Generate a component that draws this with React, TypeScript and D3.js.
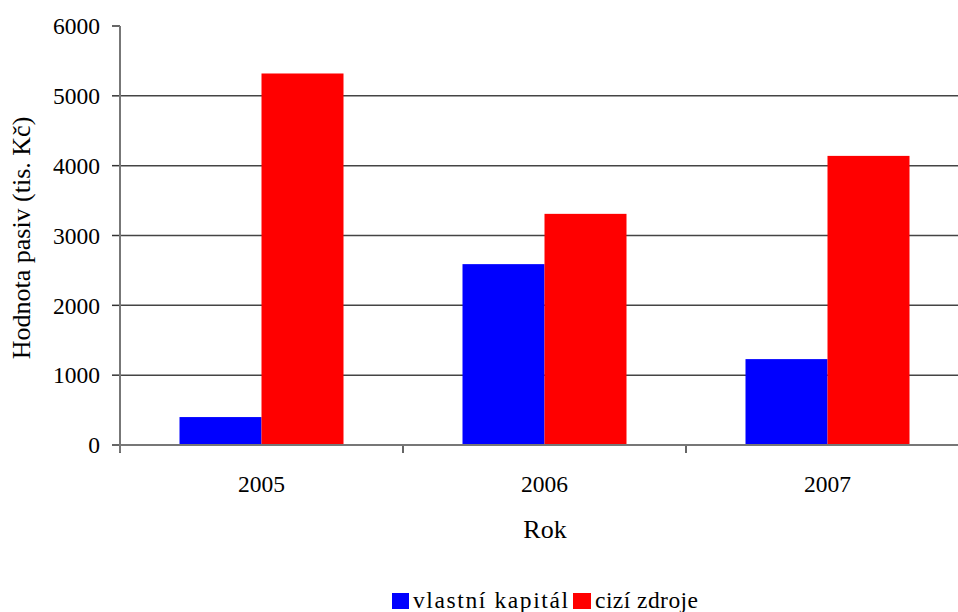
import React from "react";
import * as d3 from "d3";

const categories = ["2005", "2006", "2007"];
const seriesNames = ["vlastní kapitál", "cizí zdroje"];
const vlastniKapital = [400, 2590, 1230];
const ciziZdroje = [5320, 3310, 4140];
const yTicks = [0, 1000, 2000, 3000, 4000, 5000, 6000];
const colors = ["#0000FF", "#FF0000"];

export default function App() {
  const W = 958, H = 612;
  const left = 120, right = 969, top = 26, bottom = 445;
  const x = d3.scaleBand<string>().domain(categories).range([left, right]).paddingInner(0).paddingOuter(0);
  const y = d3.scaleLinear().domain([0, 6000]).range([bottom, top]);
  const bw = 82;
  const series = [vlastniKapital, ciziZdroje];
  const font = "'Liberation Serif', 'Times New Roman', serif";
  return (
    <svg width={W} height={H} style={{ position: "absolute", left: 0, top: 0, background: "#fff" }} fontFamily={font}>
      {yTicks.map((t) => (
        <g key={t}>
          {t > 0 && t < 6000 && <line x1={left} x2={right} y1={y(t)} y2={y(t)} stroke="#444" strokeWidth={1.5} />}
          <line x1={left - 8} x2={left} y1={y(t)} y2={y(t)} stroke="#333" strokeWidth={1.5} />
          <text x={100} y={y(t)} dy="0.35em" textAnchor="end" fontSize={23.5} fill="#000">{t}</text>
        </g>
      ))}
      {categories.map((c, i) => {
        const cx = (x(c) as number) + x.bandwidth() / 2;
        return (
          <g key={c}>
            {series.map((s, j) => (
              <rect key={j} x={cx - bw + j * bw} y={y(s[i])} width={bw} height={bottom - y(s[i])} fill={colors[j]} />
            ))}
            <text x={cx} y={492} textAnchor="middle" fontSize={23.5} fill="#000">{c}</text>
          </g>
        );
      })}
      {[...categories.map((c) => x(c) as number), right].map((px, i) => (
        <line key={i} x1={px} x2={px} y1={bottom} y2={bottom + 8} stroke="#333" strokeWidth={1.5} />
      ))}
      <line x1={left} x2={right} y1={bottom} y2={bottom} stroke="#777" strokeWidth={2} />
      <line x1={left} x2={left} y1={top} y2={bottom + 7} stroke="#777" strokeWidth={2} />
      <text x={545} y={538} textAnchor="middle" fontSize={26} fill="#000">Rok</text>
      <text transform={`translate(30,238) rotate(-90)`} textAnchor="middle" fontSize={26} fill="#000">Hodnota pasiv (tis. Kč)</text>
      <rect x={392} y={593} width={17} height={16} fill={colors[0]} />
      <text x={413} y={608} fontSize={23.5} fill="#000" textLength={155}>{seriesNames[0]}</text>
      <rect x={573} y={593} width={18} height={16} fill={colors[1]} />
      <text x={595} y={608} fontSize={23.5} fill="#000" textLength={103}>{seriesNames[1]}</text>
    </svg>
  );
}
